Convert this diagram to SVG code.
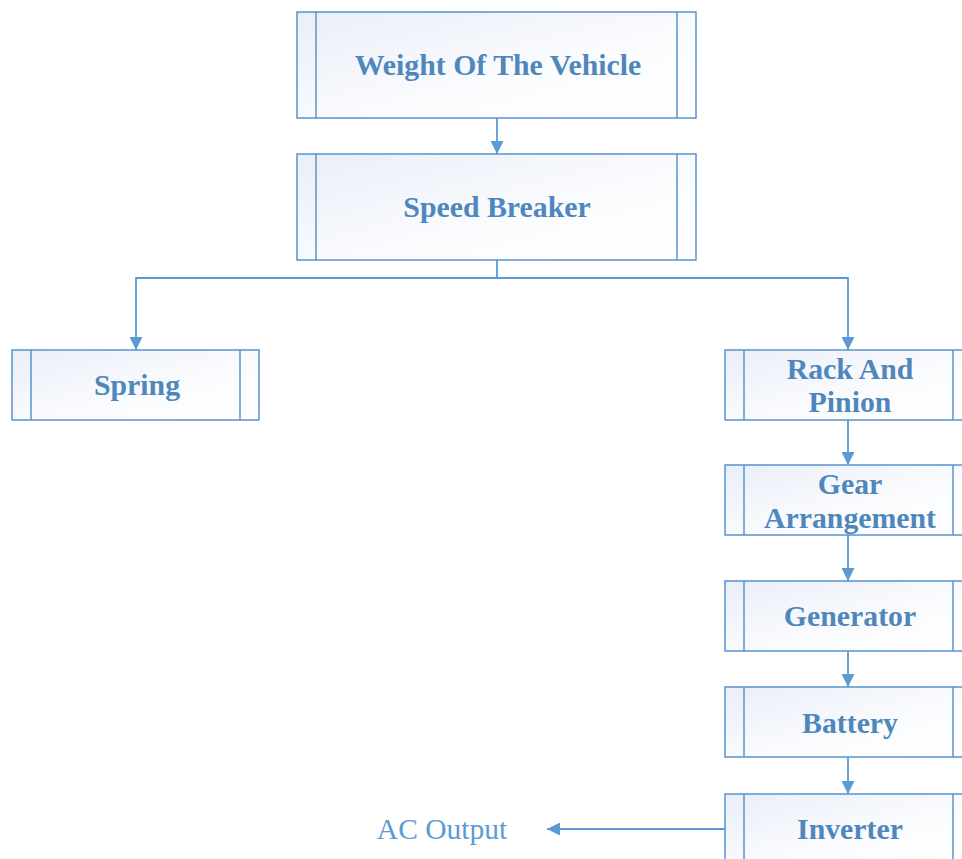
<svg xmlns="http://www.w3.org/2000/svg" width="962" height="859" viewBox="0 0 962 859">
<defs>
<linearGradient id="g" x1="0" y1="0" x2="1" y2="1">
<stop offset="0" stop-color="#e9eef8"/>
<stop offset="0.6" stop-color="#fbfcfe"/>
<stop offset="1" stop-color="#ffffff"/>
</linearGradient>
<marker id="a" viewBox="0 0 10 10" refX="10" refY="5" markerWidth="14" markerHeight="13" markerUnits="userSpaceOnUse" orient="auto">
<path d="M0,0 L10,5 L0,10 z" fill="#5b9bd5"/>
</marker>
<style>
.box{fill:url(#g);stroke:#5a93cc;stroke-width:1.5}
.in{stroke:#5a93cc;stroke-width:1.5}
.t{font-family:"Liberation Serif",serif;font-weight:bold;font-size:29.8px;fill:#4f87bd;text-anchor:middle}
.c{fill:none;stroke:#5b9bd5;stroke-width:1.8}
</style>
</defs>
<rect width="962" height="859" fill="#fff"/>
<g id="connectors">
<path class="c" d="M497,118 V154" marker-end="url(#a)"/>
<path class="c" d="M497,260 V278 H136 V350" marker-end="url(#a)"/>
<path class="c" d="M497,278 H848 V350" marker-end="url(#a)"/>
<path class="c" d="M848,420 V465" marker-end="url(#a)"/>
<path class="c" d="M848,535 V581" marker-end="url(#a)"/>
<path class="c" d="M848,651 V687" marker-end="url(#a)"/>
<path class="c" d="M848,757 V794" marker-end="url(#a)"/>
<path class="c" d="M725,829 H547" marker-end="url(#a)"/>
</g>
<g id="weight">
<rect class="box" x="297" y="12" width="399" height="106"/>
<line class="in" x1="316" y1="12" x2="316" y2="118"/><line class="in" x1="677" y1="12" x2="677" y2="118"/>
<text class="t" x="498" y="75">Weight Of The Vehicle</text>
</g>
<g id="speed">
<rect class="box" x="297" y="154" width="399" height="106"/>
<line class="in" x1="316" y1="154" x2="316" y2="260"/><line class="in" x1="677" y1="154" x2="677" y2="260"/>
<text class="t" x="497" y="217">Speed Breaker</text>
</g>
<g id="spring">
<rect class="box" x="12" y="350" width="247" height="70"/>
<line class="in" x1="31" y1="350" x2="31" y2="420"/><line class="in" x1="240" y1="350" x2="240" y2="420"/>
<text class="t" x="137" y="395">Spring</text>
</g>
<g id="rack">
<rect class="box" x="725" y="350" width="247" height="70"/>
<line class="in" x1="744" y1="350" x2="744" y2="420"/><line class="in" x1="953" y1="350" x2="953" y2="420"/>
<text class="t" x="850" y="379">Rack And</text>
<text class="t" x="850" y="412">Pinion</text>
</g>
<g id="gear">
<rect class="box" x="725" y="465" width="247" height="70"/>
<line class="in" x1="744" y1="465" x2="744" y2="535"/><line class="in" x1="953" y1="465" x2="953" y2="535"/>
<text class="t" x="850" y="494">Gear</text>
<text class="t" x="850" y="528">Arrangement</text>
</g>
<g id="generator">
<rect class="box" x="725" y="581" width="247" height="70"/>
<line class="in" x1="744" y1="581" x2="744" y2="651"/><line class="in" x1="953" y1="581" x2="953" y2="651"/>
<text class="t" x="850" y="626">Generator</text>
</g>
<g id="battery">
<rect class="box" x="725" y="687" width="247" height="70"/>
<line class="in" x1="744" y1="687" x2="744" y2="757"/><line class="in" x1="953" y1="687" x2="953" y2="757"/>
<text class="t" x="850" y="733">Battery</text>
</g>
<g id="inverter">
<rect class="box" x="725" y="794" width="247" height="70"/>
<line class="in" x1="744" y1="794" x2="744" y2="864"/><line class="in" x1="953" y1="794" x2="953" y2="864"/>
<text class="t" x="850" y="839">Inverter</text>
</g>
<g id="acoutput">
<text x="442" y="839" font-family="Liberation Serif,serif" font-size="29.5" fill="#5b9bd5" text-anchor="middle">AC Output</text>
</g>
</svg>
